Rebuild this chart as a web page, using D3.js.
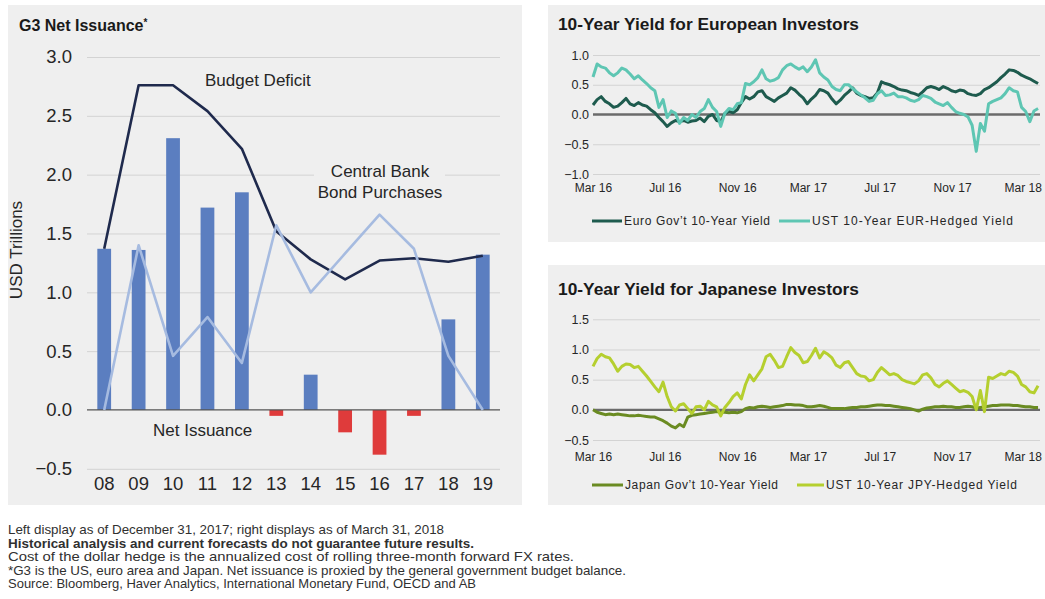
<!DOCTYPE html>
<html>
<head>
<meta charset="utf-8">
<script src="https://cdn.jsdelivr.net/npm/d3@7"></script>
<style>
  body { margin: 0; background: #ffffff; }
  svg { display: block; font-family: "Liberation Sans", Arial, Helvetica, sans-serif; }
</style>
</head>
<body>
<svg id="chart" width="1045" height="599"></svg>
<script>
// ---------- G3 net issuance (USD trillions) ----------
const years = ["08", "09", "10", "11", "12", "13", "14", "15", "16", "17", "18", "19"];
const netIssuance   = [1.37, 1.36, 2.31, 1.72, 1.85, -0.05, 0.30, -0.19, -0.38, -0.05, 0.77, 1.32];
const budgetDeficit = [1.37, 2.76, 2.76, 2.54, 2.22, 1.52, 1.28, 1.11, 1.27, 1.29, 1.26, 1.31];
const cbPurchases   = [0.00, 1.40, 0.46, 0.79, 0.40, 1.57, 1.00, 1.33, 1.66, 1.37, 0.46, 0.00];
const leftTicks = [-0.5, 0, 0.5, 1.0, 1.5, 2.0, 2.5, 3.0];

// ---------- weekly 10-year yields (%), from 1 Mar 2016 ----------
const weekStart = new Date(2016, 2, 1);
const euroGovt = [
  0.16, 0.25, 0.30, 0.22, 0.18, 0.12, 0.14, 0.20, 0.27, 0.18,
  0.15, 0.20, 0.16, 0.14, 0.08, 0.03, -0.05, -0.12, -0.20, -0.14,
  -0.10, -0.12, -0.10, -0.13, -0.11, -0.10, -0.06, -0.12, -0.03, 0.00,
  -0.10, -0.12, 0.02, 0.05, 0.03, 0.08, 0.20, 0.30, 0.26, 0.30,
  0.38, 0.40, 0.30, 0.26, 0.22, 0.28, 0.32, 0.36,
  0.45, 0.41, 0.34, 0.28, 0.18, 0.26, 0.32, 0.42, 0.40, 0.36,
  0.26, 0.18, 0.24, 0.32, 0.38, 0.45, 0.36, 0.32, 0.30, 0.27,
  0.28, 0.36, 0.55, 0.52, 0.50, 0.47, 0.43, 0.41, 0.40, 0.37,
  0.35, 0.32, 0.38, 0.45, 0.47, 0.45, 0.42, 0.47, 0.44, 0.40,
  0.38, 0.41, 0.40, 0.35, 0.33, 0.32, 0.35, 0.42, 0.45, 0.50,
  0.55, 0.62, 0.68, 0.75, 0.74, 0.71, 0.66, 0.63, 0.60, 0.56, 0.52
];
const ustEurHedged = [
  0.63, 0.85, 0.80, 0.78, 0.70, 0.65, 0.70, 0.78, 0.75, 0.68,
  0.60, 0.65, 0.58, 0.52, 0.45, 0.40, 0.12, 0.25, -0.05, 0.06,
  0.02, -0.15, -0.05, -0.10, 0.00, -0.05, 0.05, 0.10, 0.25, 0.12,
  0.05, -0.20, 0.02, 0.10, 0.08, 0.18, 0.20, 0.52, 0.50, 0.55,
  0.62, 0.75, 0.60, 0.56, 0.58, 0.62, 0.75, 0.82,
  0.85, 0.80, 0.76, 0.80, 0.72, 0.80, 0.92, 0.70, 0.63, 0.58,
  0.47, 0.42, 0.40, 0.50, 0.50, 0.44, 0.38, 0.33, 0.28, 0.22,
  0.24, 0.35, 0.40, 0.32, 0.33, 0.36, 0.30, 0.30, 0.28, 0.24,
  0.22, 0.25, 0.32, 0.30, 0.27, 0.21, 0.18, 0.15, 0.20, 0.12,
  0.05, 0.02, 0.00, -0.04, -0.18, -0.62, -0.15, -0.28, 0.18, 0.22,
  0.25, 0.28, 0.35, 0.45, 0.40, 0.38, 0.12, 0.05, -0.12, 0.06, 0.10
];
const japanGovt = [
  0.00, -0.04, -0.06, -0.08, -0.07, -0.08, -0.07, -0.08, -0.09, -0.10,
  -0.10, -0.09, -0.10, -0.11, -0.12, -0.12, -0.15, -0.18, -0.22, -0.27,
  -0.30, -0.24, -0.28, -0.12, -0.09, -0.08, -0.07, -0.06, -0.05, -0.04,
  -0.03, -0.04, -0.04, -0.05, -0.04, -0.05, -0.03, 0.02, 0.04, 0.03,
  0.05, 0.06, 0.05, 0.04, 0.05, 0.06, 0.07, 0.09,
  0.09, 0.08, 0.08, 0.07, 0.05, 0.05, 0.06, 0.07, 0.06, 0.04,
  0.02, 0.02, 0.02, 0.02, 0.03, 0.04, 0.04, 0.05, 0.05, 0.06,
  0.07, 0.08, 0.08, 0.07, 0.07, 0.06, 0.05, 0.04, 0.03, 0.02,
  0.00, -0.02, 0.01, 0.03, 0.04, 0.05, 0.05, 0.06, 0.05, 0.05,
  0.04, 0.04, 0.05, 0.06, 0.05, 0.03, 0.04, 0.05, 0.06, 0.07,
  0.07, 0.08, 0.08, 0.08, 0.07, 0.07, 0.06, 0.05, 0.05, 0.04, 0.04
];
const ustJpyHedged = [
  0.72, 0.85, 0.92, 0.88, 0.86, 0.76, 0.64, 0.72, 0.76, 0.75,
  0.70, 0.72, 0.64, 0.56, 0.47, 0.38, 0.30, 0.46, 0.22, 0.05,
  -0.02, 0.08, 0.10, 0.02, -0.06, 0.05, 0.06, 0.00, 0.14, 0.08,
  0.05, -0.10, 0.04, 0.12, 0.22, 0.28, 0.18, 0.42, 0.58, 0.48,
  0.58, 0.68, 0.88, 0.92, 0.82, 0.70, 0.72, 0.88,
  1.03, 0.95, 0.90, 0.78, 0.80, 0.90, 1.02, 0.86, 0.96, 0.92,
  0.86, 0.74, 0.70, 0.78, 0.80, 0.70, 0.60, 0.56, 0.55, 0.48,
  0.50, 0.62, 0.70, 0.64, 0.58, 0.60, 0.57, 0.50, 0.47, 0.45,
  0.43, 0.48, 0.58, 0.60, 0.53, 0.42, 0.38, 0.44, 0.48, 0.42,
  0.36, 0.30, 0.32, 0.29, 0.22, 0.00, 0.32, -0.03, 0.54, 0.52,
  0.56, 0.60, 0.58, 0.64, 0.62, 0.56, 0.42, 0.38, 0.30, 0.28, 0.40
];
const monthTicks = ["2016-03-01", "2016-07-01", "2016-11-01", "2017-03-01",
                    "2017-07-01", "2017-11-01", "2018-03-01"];
const euroTicks = [-1.0, -0.5, 0, 0.5, 1.0];
const japanTicks = [-0.5, 0, 0.5, 1.0, 1.5];

const footnotes = [
  { text: "Left display as of December 31, 2017; right displays as of March  31, 2018", bold: false, width: 436 },
  { text: "Historical analysis and current forecasts do not guarantee future results.", bold: true, width: 466 },
  { text: "Cost of the dollar hedge is the annualized cost of rolling three-month forward FX rates.", bold: false, width: 566 },
  { text: "*G3 is the US, euro area and Japan. Net issuance is proxied by the general government budget balance.", bold: false, width: 618 },
  { text: "Source: Bloomberg, Haver Analytics, International Monetary Fund, OECD and AB", bold: false, width: 468 }
];

// ---------- drawing ----------
const svg = d3.select("#chart");
const PANEL = "#efefef";
const GRID = "#d3d3d3";
const TEXT = "#262626";
const fmt = d3.format(".1f");

svg.append("rect").attr("width", 1045).attr("height", 599).attr("fill", "#ffffff");
[[8, 5, 514, 500], [548, 5, 497, 237], [548, 265, 497, 240]].forEach(([x, y, w, h]) =>
  svg.append("rect").attr("x", x).attr("y", y).attr("width", w).attr("height", h).attr("fill", PANEL));

function styleAxisText(g, size) {
  g.select(".domain").remove();
  g.selectAll(".tick line").remove();
  g.selectAll("text").attr("fill", TEXT).style("font-size", size + "px").style("font-family", "inherit");
}

// ===== left: G3 net issuance =====
const L = { left: 87, right: 500, top: 57, bottom: 468.8 };
const xL = d3.scaleBand().domain(years).range([L.left, L.right]).paddingInner(0.6).paddingOuter(0.3);
const yL = d3.scaleLinear().domain([-0.5, 3.0]).range([L.bottom, L.top]);
const gL = svg.append("g");

gL.append("g").attr("transform", `translate(${L.left},0)`)
  .call(d3.axisLeft(yL).tickValues(leftTicks.filter(v => v !== 0)).tickSize(-(L.right - L.left)).tickFormat(""))
  .call(g => g.select(".domain").remove())
  .call(g => g.selectAll(".tick line").attr("stroke", GRID).attr("stroke-width", 1));

gL.append("g").attr("transform", `translate(${L.left},0)`)
  .call(d3.axisLeft(yL).tickValues(leftTicks).tickSize(0).tickPadding(15).tickFormat(fmt))
  .call(g => styleAxisText(g, 18.5));

gL.append("g").attr("transform", `translate(0,${L.bottom})`)
  .call(d3.axisBottom(xL).tickSize(0).tickPadding(8.5))
  .call(g => styleAxisText(g, 18.5));

gL.append("g").selectAll("rect").data(years).join("rect")
  .attr("x", d => xL(d))
  .attr("width", xL.bandwidth())
  .attr("y", (d, i) => yL(Math.max(0, netIssuance[i])))
  .attr("height", (d, i) => Math.abs(yL(netIssuance[i]) - yL(0)))
  .attr("fill", (d, i) => netIssuance[i] < 0 ? "#df3b3b" : "#5b7ec0");

gL.append("line").attr("x1", L.left).attr("x2", L.right)
  .attr("y1", yL(0)).attr("y2", yL(0)).attr("stroke", "#555555").attr("stroke-width", 1.3);

const lineL = arr => d3.line().x((d, i) => xL(years[i]) + xL.bandwidth() / 2).y(d => yL(d))(arr);
gL.append("path").attr("d", lineL(budgetDeficit)).attr("fill", "none")
  .attr("stroke", "#1f2a4d").attr("stroke-width", 2.6).attr("stroke-linejoin", "round");
gL.append("path").attr("d", lineL(cbPurchases)).attr("fill", "none")
  .attr("stroke", "#a6bbe0").attr("stroke-width", 2.6).attr("stroke-linejoin", "round");

// labels
gL.append("rect").attr("x", 314).attr("y", 160).attr("width", 131).attr("height", 46).attr("fill", PANEL);
const annot = (x, y, t, anchor) => gL.append("text").attr("x", x).attr("y", y)
  .attr("text-anchor", anchor || "start").attr("fill", TEXT).style("font-size", "17px").text(t);
annot(205, 86, "Budget Deficit");
annot(380, 177, "Central Bank", "middle");
annot(380, 197.5, "Bond Purchases", "middle");
annot(153, 436, "Net Issuance");

gL.append("text").attr("transform", "translate(22,250) rotate(-90)").attr("text-anchor", "middle")
  .attr("fill", TEXT).style("font-size", "17px").text("USD Trillions");

const t1 = svg.append("text").attr("x", 19).attr("y", 31).attr("fill", "#1a1a1a")
  .style("font-size", "16px").style("font-weight", "bold");
t1.append("tspan").text("G3 Net Issuance");
t1.append("tspan").attr("dy", -5).style("font-size", "10px").text("*");

// ===== right: 10-year yields =====
const parse = d3.timeParse("%Y-%m-%d");
const dates = euroGovt.map((d, i) => d3.timeDay.offset(weekStart, 7 * i));
const xR = d3.scaleTime().domain([parse("2016-03-01"), parse("2018-04-01")]).range([593, 1041]);
const tickFormat = d3.timeFormat("%b %y");

function yieldPanel(cfg) {
  const g = svg.append("g");
  const y = d3.scaleLinear().domain(cfg.domain).range(cfg.range);
  g.append("text").attr("x", 558).attr("y", cfg.titleY).attr("fill", "#1a1a1a")
    .attr("textLength", 301).attr("lengthAdjust", "spacingAndGlyphs")
    .style("font-size", "17px").style("font-weight", "bold").text(cfg.title);

  g.append("g").attr("transform", "translate(593,0)")
    .call(d3.axisLeft(y).tickValues(cfg.ticks.filter(v => v !== 0)).tickSize(-(1040 - 593)).tickFormat(""))
    .call(a => a.select(".domain").remove())
    .call(a => a.selectAll(".tick line").attr("stroke", GRID).attr("stroke-width", 1));

  g.append("g").attr("transform", "translate(593,0)")
    .call(d3.axisLeft(y).tickValues(cfg.ticks).tickSize(0).tickPadding(4).tickFormat(fmt))
    .call(a => styleAxisText(a, 12.5));

  g.append("g").attr("transform", `translate(0,${cfg.range[0]})`)
    .call(d3.axisBottom(xR).tickValues(monthTicks.map(parse)).tickSize(0).tickPadding(cfg.xPad).tickFormat(tickFormat))
    .call(a => styleAxisText(a, 12));

  g.append("line").attr("x1", 593).attr("x2", 1040).attr("y1", y(0)).attr("y2", y(0))
    .attr("stroke", "#6b6b6b").attr("stroke-width", 2.4);

  const line = d3.line().x((d, i) => xR(dates[i])).y(d => y(d));
  cfg.series.forEach(s => g.append("path").attr("d", line(s.values)).attr("fill", "none")
    .attr("stroke", s.color).attr("stroke-width", 3).attr("stroke-linejoin", "round"));

  cfg.series.forEach(s => {
    g.append("line").attr("x1", s.lx[0]).attr("x2", s.lx[1]).attr("y1", cfg.legendY).attr("y2", cfg.legendY)
      .attr("stroke", s.color).attr("stroke-width", 3);
    g.append("text").attr("x", s.lx[1] + 2).attr("y", cfg.legendY + 4.3).attr("fill", TEXT)
      .attr("textLength", s.tw).attr("lengthAdjust", "spacing")
      .style("font-size", "12px").text(s.name);
  });
}

yieldPanel({
  title: "10-Year Yield for European Investors", titleY: 30,
  domain: [-1, 1], range: [174, 55], ticks: euroTicks, xPad: 9.5, legendY: 221,
  series: [
    { name: "Euro Gov\u2019t 10-Year Yield", values: euroGovt, color: "#1e5b4e", lx: [592, 622], tw: 146 },
    { name: "UST 10-Year EUR-Hedged Yield", values: ustEurHedged, color: "#5ec6b3", lx: [779, 810], tw: 201 }
  ]
});

yieldPanel({
  title: "10-Year Yield for Japanese Investors", titleY: 295,
  domain: [-0.5, 1.5], range: [440, 319.3], ticks: japanTicks, xPad: 12, legendY: 485,
  series: [
    { name: "Japan Gov\u2019t 10-Year Yield", values: japanGovt, color: "#6a8b22", lx: [592, 623], tw: 153 },
    { name: "UST 10-Year JPY-Hedged Yield", values: ustJpyHedged, color: "#b5cf2f", lx: [797, 824], tw: 191 }
  ]
});

// ===== notes =====
svg.append("g").selectAll("text").data(footnotes).join("text")
  .attr("x", 8).attr("y", (d, i) => 534 + i * 13.5)
  .attr("textLength", d => d.width).attr("lengthAdjust", "spacingAndGlyphs")
  .attr("fill", "#303030").style("font-size", "13px")
  .style("font-weight", d => d.bold ? "bold" : "normal")
  .text(d => d.text);
</script>
</body>
</html>
